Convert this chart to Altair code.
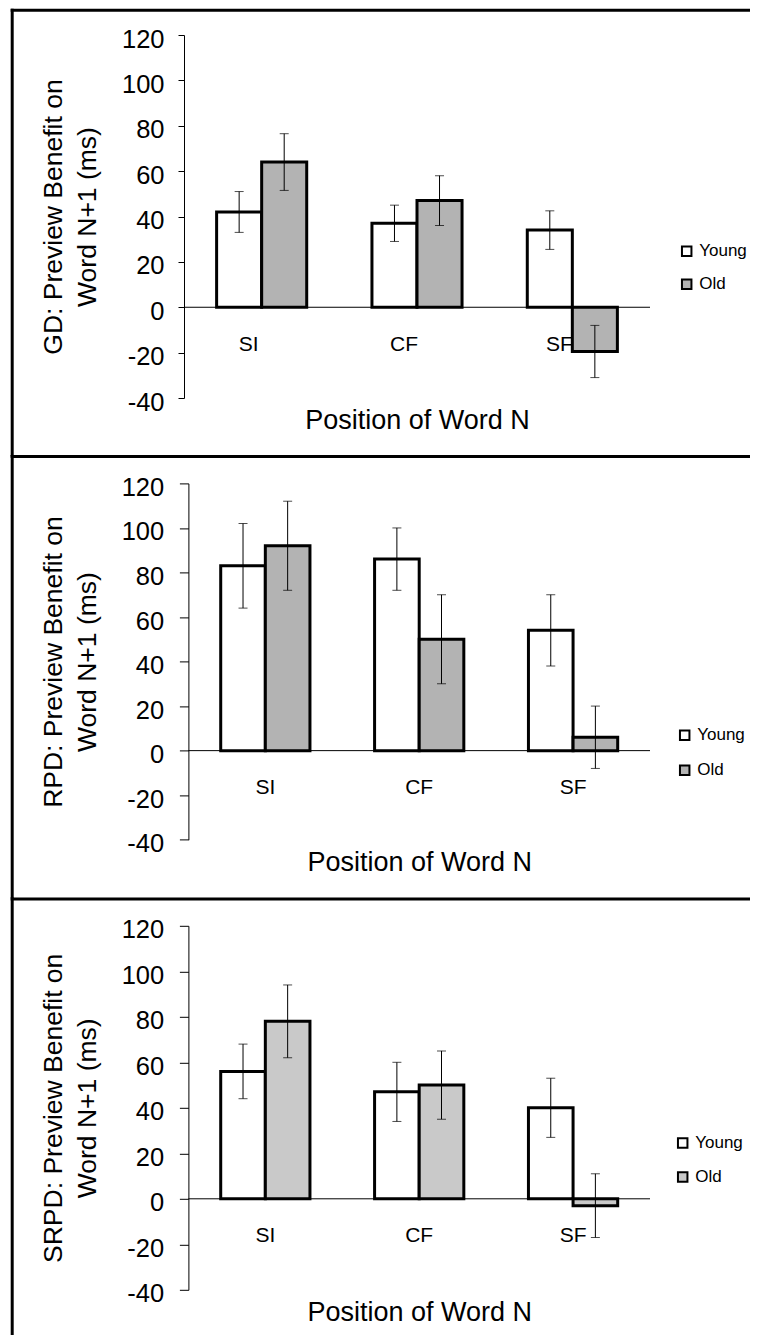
import altair as alt
import pandas as pd

# ---------------- data ----------------
cats = ["SI", "CF", "SF"]
groups = ["Young", "Old"]

gd_young = [42, 37, 34]
gd_young_err = [9, 8, 8.5]
gd_old = [64, 47, -19.5]
gd_old_err = [12.5, 11, 11.5]

rpd_young = [83, 86, 54]
rpd_young_err = [19, 14, 16]
rpd_old = [92, 50, 6]
rpd_old_err = [20, 20, 14]

srpd_young = [56, 47, 40]
srpd_young_err = [12, 13, 13]
srpd_old = [78, 50, -3]
srpd_old_err = [16, 15, 14]

y_ticks = [-40, -20, 0, 20, 40, 60, 80, 100, 120]
y_titles = [
    ["GD: Preview Benefit on", "Word N+1 (ms)"],
    ["RPD: Preview Benefit on", "Word N+1 (ms)"],
    ["SRPD: Preview Benefit on", "Word N+1 (ms)"],
]
x_title = "Position of Word N"

# ---------------- layout / style ----------------
FONT = "Liberation Sans"
W = 466
ORIGIN_X = 183.3
one = pd.DataFrame({"k": [0]})


def panel(young, young_err, old, old_err, ytitle, gray, height, origin_y,
          top_page, bottom_page, shift, tick_size, label_pad, label_dx,
          label_dy, leg_x, leg_y, leg_row):
    df = pd.DataFrame({
        "cat": cats + cats,
        "grp": ["Young"] * 3 + ["Old"] * 3,
        "val": young + old,
        "err": young_err + old_err,
    })
    df["lo"] = df["val"] - df["err"]
    df["hi"] = df["val"] + df["err"]

    xscale = alt.Scale(range=[shift, W], paddingInner=0.42, paddingOuter=0.21)
    xaxis = alt.Axis(labels=False, ticks=False, domain=False, grid=False,
                     title=x_title, titleFont=FONT, titleFontSize=27,
                     titleFontWeight="normal", titleColor="black",
                     titlePadding=9.5)
    yscale = alt.Scale(domain=[-40, 120], nice=False)
    yaxis = alt.Axis(values=y_ticks, labelExpr="'' + datum.value",
                     title=ytitle, titleFont=FONT, titleFontSize=26.5,
                     titleFontWeight="normal", titleColor="black",
                     titleLineHeight=34, titlePadding=19.5,
                     labelFont=FONT, labelFontSize=25.5, labelColor="black",
                     labelPadding=label_pad, labelOffset=4,
                     tickSize=tick_size, tickColor="black", tickWidth=1,
                     domainColor="black", domainWidth=1, grid=False,
                     offset=-shift)

    def X():
        return alt.X("cat:N", sort=cats, scale=xscale, axis=xaxis)

    def Y(f):
        return alt.Y(f, type="quantitative", scale=yscale, axis=yaxis)

    xo = alt.XOffset("grp:N", sort=groups,
                     scale=alt.Scale(paddingInner=0, paddingOuter=0))

    rx = lambda px: px - ORIGIN_X
    ry = lambda py: py - origin_y

    border_top = alt.Chart(one).mark_rect(color="black").encode(
        x=alt.value(rx(10)), x2=alt.value(rx(770)),
        y=alt.value(ry(top_page - 1.5)), y2=alt.value(ry(top_page + 1.5)))
    border_left = alt.Chart(one).mark_rect(color="black").encode(
        x=alt.value(rx(10)), x2=alt.value(rx(13)),
        y=alt.value(ry(top_page - 1.5)), y2=alt.value(ry(bottom_page)))

    zero = alt.Chart(pd.DataFrame({"z": [0]})).mark_rule(
        color="black", strokeWidth=1).encode(
        y=Y("z"), x=alt.value(shift), x2=alt.value(W))

    base = alt.Chart(df)
    bars = base.mark_bar(stroke="black", strokeWidth=3).encode(
        x=X(), xOffset=xo, y=Y("val"),
        color=alt.Color("grp:N", sort=groups,
                        scale=alt.Scale(domain=groups, range=["white", gray]),
                        legend=alt.Legend(
                            title=None, orient="none", direction="vertical",
                            legendX=leg_x, legendY=leg_y,
                            symbolType="square", symbolSize=90,
                            symbolStrokeColor="black", symbolStrokeWidth=2,
                            labelFont=FONT, labelFontSize=17,
                            labelColor="black", labelOffset=4,
                            rowPadding=leg_row, padding=0)))
    err = base.mark_rule(color="black", strokeWidth=1).encode(
        x=X(), xOffset=xo, y=Y("lo"), y2="hi")
    cap_lo = base.mark_tick(color="black", size=9, thickness=1).encode(
        x=X(), xOffset=xo, y=Y("lo"))
    cap_hi = base.mark_tick(color="black", size=9, thickness=1).encode(
        x=X(), xOffset=xo, y=Y("hi"))

    labels = alt.Chart(pd.DataFrame({"cat": cats, "z": [0, 0, 0]})).mark_text(
        font=FONT, fontSize=21, color="black", dx=label_dx, dy=label_dy,
        baseline="middle").encode(x=X(), y=Y("z"), text="cat:N")

    return alt.layer(border_top, border_left, zero, bars, err, cap_lo, cap_hi,
                     labels).properties(width=W, height=height)


p1 = panel(gd_young, gd_young_err, gd_old, gd_old_err, y_titles[0],
           "#b3b3b3", 363, 34.3, 9.5, 455.7, 0, 6, 14, -13, 37.5,
           494.2, 207.7, 14)
p2 = panel(rpd_young, rpd_young_err, rpd_old, rpd_old_err, y_titles[1],
           "#b3b3b3", 356.3, 482.7, 455.7, 897.5, 4.4, 9, 15.7, 0, 37,
           492.2, 243.3, 16)
p3 = panel(srpd_young, srpd_young_err, srpd_old, srpd_old_err, y_titles[2],
           "#c9c9c9", 364, 924.4, 897.5, 1345, 4.4, 9, 15.7, 0, 37,
           490.2, 208.6, 15)

chart = alt.vconcat(p1, p2, p3, spacing=85.4, bounds="flush").resolve_scale(
    x="independent", y="independent", color="independent",
    xOffset="independent").resolve_legend(color="independent").configure_view(
    stroke=None).properties(
    padding={"left": 2, "top": 0, "right": -21, "bottom": -12},
    background="white")

chart.save("out.html", embed_options={"renderer": "svg", "actions": False})
